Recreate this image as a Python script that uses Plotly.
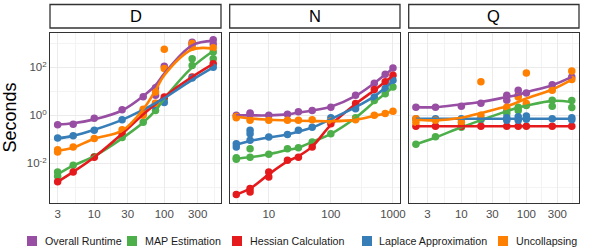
import plotly.graph_objects as go

# ---------------- data ----------------
SERIES = ["Overall Runtime", "MAP Estimation", "Hessian Calculation",
          "Laplace Approximation", "Uncollapsing"]
COLORS = ["#984EA3", "#4DAF4A", "#E41A1C", "#377EB8", "#FF7F00"]
PANELS = ["D", "N", "Q"]

# Panel D
D_X = [3, 5, 10, 25, 50, 75, 100, 250, 500]
D_OVERALL_PTS = [[0.41], [0.43], [0.76], [1.7], [6.0], [14, 6.8], [110], [1100, 890], [1400, 930]]
D_OVERALL_FIT = [0.42, 0.47, 0.68, 1.6, 6.3, 18, 55, 830, 1260]
D_MAP_PTS = [[0.0044, 0.0029], [0.0083], [0.019], [0.12], [0.52], [1.6], [4.9], [230, 120], [440, 230]]
D_MAP_FIT = [0.0035, 0.008, 0.02, 0.11, 0.5, 1.6, 5, 100, 480]
D_HESS_PTS = [[0.0017], [0.0044], [0.018], [0.17], [1.2], [3.1], [5.8], [40], [140]]
D_HESS_FIT = [0.0017, 0.0044, 0.018, 0.17, 1.1, 3, 6, 40, 140]
D_LAP_PTS = [[0.115], [0.14], [0.24], [0.66], [1.6], [2.4], [3.4], [36], [100]]
D_LAP_FIT = [0.11, 0.14, 0.25, 0.65, 1.7, 3.2, 5.2, 30, 100]
D_UNC_PTS = [[0.037, 0.03], [0.048], [0.11], [0.25], [1.8, 1.0], [9.3, 3.2], [560, 90], [980, 700], [660]]
D_UNC_FIT = [0.034, 0.045, 0.107, 0.23, 1.8, 11, 47, 550, 600]

# Panel N
N_X = [3, 5, 10, 20, 30, 50, 100, 250, 500, 750, 1000]
N_OVERALL_PTS = [[1.0], [1.1, 1.25], [1.0], [1.1], [1.4], [1.6], [2.2], [6.8], [22], [51], [93]]
N_OVERALL_FIT = [1.0, 1.0, 1.0, 1.1, 1.3, 1.6, 2.3, 6.5, 22, 50, 90]
N_MAP_PTS = [[0.015, 0.017], [0.041, 0.018], [0.024], [0.041], [0.045], [0.078], [0.17], [0.79], [4.2], [7.9], [15]]
N_MAP_FIT = [0.016, 0.018, 0.024, 0.036, 0.045, 0.078, 0.17, 0.8, 3.6, 8, 15]
N_HESS_PTS = [[0.0005], [0.00089, 0.00065], [0.0044, 0.0027], [0.0135], [0.018], [0.048], [0.45], [3.1], [12], [25], [47]]
N_HESS_FIT = [0.0005, 0.0009, 0.0035, 0.012, 0.02, 0.05, 0.4, 3, 11, 25, 45]
N_LAP_PTS = [[0.066, 0.048], [0.24, 0.17, 0.091], [0.126], [0.16], [0.24], [0.32], [0.79], [1.9], [5.8], [13], [29]]
N_LAP_FIT = [0.06, 0.085, 0.12, 0.16, 0.21, 0.31, 0.7, 2.2, 6.2, 14, 28]
N_UNC_PTS = [[0.9, 0.8], [0.62], [0.62], [0.62], [0.62], [0.66], [0.58], [0.66], [1.0], [1.2], [1.5]]
N_UNC_FIT = [0.88, 0.75, 0.66, 0.62, 0.6, 0.58, 0.57, 0.65, 0.95, 1.2, 1.5]

# Panel Q
Q_X = [2, 4, 10, 20, 50, 75, 100, 250, 500]
Q_OVERALL_PTS = [[2.2], [2.2], [2.4], [3.2], [6.8, 4.3], [11, 6.8], [8.5], [19], [40]]
Q_OVERALL_FIT = [2.2, 2.2, 2.9, 3.6, 5.8, 7.2, 9.3, 18, 40]
Q_MAP_PTS = [[0.062], [0.13], [0.32], [0.66], [1.6, 1.2], [2.2, 1.6], [2.6], [4.3, 2.4], [4.2, 2.1]]
Q_MAP_FIT = [0.062, 0.12, 0.32, 0.63, 1.5, 2.1, 2.5, 4.0, 3.6]
Q_HESS_PTS = [[0.35], [0.35], [0.35], [0.35], [0.35], [0.35], [0.35], [0.35], [0.35]]
Q_HESS_FIT = [0.35, 0.35, 0.35, 0.35, 0.35, 0.35, 0.35, 0.35, 0.35]
Q_LAP_PTS = [[0.72], [0.72], [0.72], [0.72], [0.79, 0.63], [0.87, 0.63], [0.95, 0.69], [0.72], [0.79, 0.66]]
Q_LAP_FIT = [0.72, 0.72, 0.72, 0.72, 0.72, 0.72, 0.72, 0.72, 0.72]
Q_UNC_PTS = [[0.72, 0.52], [0.62], [0.52], [25, 1.0], [2.2], [5.8], [58, 3.1], [11], [71, 31]]
Q_UNC_FIT = [0.66, 0.62, 0.8, 1.26, 2.4, 3.6, 5, 12, 31]

# axis ticks
D_TICKS = [3, 10, 30, 100, 300]
N_TICKS = [10, 100, 1000]
Q_TICKS = [3, 10, 30, 100, 300]
Y_TICKS = [0.01, 1, 100]
Y_TICKTEXT = ["10<sup>-2</sup>", "10<sup>0</sup>", "10<sup>2</sup>"]

# ---------------- figure ----------------
panel_data = {
    "D": (D_X, [D_OVERALL_PTS, D_MAP_PTS, D_HESS_PTS, D_LAP_PTS, D_UNC_PTS],
          [D_OVERALL_FIT, D_MAP_FIT, D_HESS_FIT, D_LAP_FIT, D_UNC_FIT]),
    "N": (N_X, [N_OVERALL_PTS, N_MAP_PTS, N_HESS_PTS, N_LAP_PTS, N_UNC_PTS],
          [N_OVERALL_FIT, N_MAP_FIT, N_HESS_FIT, N_LAP_FIT, N_UNC_FIT]),
    "Q": (Q_X, [Q_OVERALL_PTS, Q_MAP_PTS, Q_HESS_PTS, Q_LAP_PTS, Q_UNC_PTS],
          [Q_OVERALL_FIT, Q_MAP_FIT, Q_HESS_FIT, Q_LAP_FIT, Q_UNC_FIT]),
}

fig = go.Figure()
for i, p in enumerate(PANELS):
    xs, pts, fits = panel_data[p]
    xa = "x" if i == 0 else f"x{i+1}"
    ya = "y" if i == 0 else f"y{i+1}"
    for s, reps in enumerate(pts):
        px = [x for x, r in zip(xs, reps) for _ in r]
        py = [v for r in reps for v in r]
        fig.add_trace(go.Scatter(x=px, y=py, mode="markers", xaxis=xa, yaxis=ya,
                                 marker=dict(color=COLORS[s], size=7.5, line=dict(width=0)),
                                 showlegend=False, hoverinfo="skip"))
    for s, fit in enumerate(fits):
        fig.add_trace(go.Scatter(x=xs, y=fit, mode="lines", xaxis=xa, yaxis=ya,
                                 line=dict(color=COLORS[s], width=2.6, shape="spline", smoothing=1.0),
                                 showlegend=False, hoverinfo="skip"))

FONT = "Liberation Sans, Arial, Helvetica, sans-serif"
L, R, T, B = 50, 21, 33, 47
W, H = 600, 250
PW, PH = W - L - R, H - T - B

def px2x(px):
    return (px - L) / PW

def py2y(py):
    return (H - B - py) / PH

domains = [[px2x(50), px2x(221)], [px2x(229.7), px2x(400)], [px2x(408.7), 1.0]]
xranges = [[0.368, 2.81], [0.371, 3.113], [0.19, 2.81]]
xticks = [D_TICKS, N_TICKS, Q_TICKS]
xminor = [[5.48, 17.3, 54.8, 173, 520], [3.16, 31.6, 316], [1.64, 5.48, 17.3, 54.8, 173, 520]]

common_axis = dict(showline=True, mirror=True, linecolor="#333333", linewidth=1,
                   gridcolor="#EBEBEB", gridwidth=1.1, ticks="", zeroline=False,
                   tickfont=dict(family=FONT, size=11.5, color="#4D4D4D"))

layout = dict(width=W, height=H, margin=dict(l=L, r=R, t=T, b=B),
              plot_bgcolor="white", paper_bgcolor="white", showlegend=False,
              font=dict(family=FONT))
for i in range(3):
    key = "xaxis" if i == 0 else f"xaxis{i+1}"
    layout[key] = dict(common_axis, type="log", domain=domains[i], range=xranges[i],
                       tickmode="array", tickvals=xticks[i], ticktext=[str(t) for t in xticks[i]],
                       anchor="y" if i == 0 else f"y{i+1}",
                       minor=dict(tickmode="array", tickvals=xminor[i], showgrid=True,
                                  gridcolor="#F3F3F3", gridwidth=0.6, ticks=""))
    ykey = "yaxis" if i == 0 else f"yaxis{i+1}"
    ydict = dict(common_axis, type="log", range=[-3.65, 3.43], domain=[0, 1],
                 tickmode="array", tickvals=Y_TICKS, ticktext=Y_TICKTEXT,
                 anchor="x" if i == 0 else f"x{i+1}",
                 minor=dict(tickmode="array", tickvals=[0.001, 0.1, 10, 1000], showgrid=True,
                            gridcolor="#F3F3F3", gridwidth=0.6, ticks=""))
    if i > 0:
        ydict["showticklabels"] = False
        ydict["matches"] = "y"
    layout[ykey] = ydict

fig.update_layout(**layout)

# strips
for i, p in enumerate(PANELS):
    fig.add_shape(type="rect", xref="paper", yref="paper",
                  x0=domains[i][0], x1=domains[i][1], y0=py2y(28), y1=py2y(4.5),
                  line=dict(color="#333333", width=1.3), fillcolor="white", layer="above")
    fig.add_annotation(text=p, xref="paper", yref="paper",
                       x=(domains[i][0] + domains[i][1]) / 2, y=py2y(16.3),
                       showarrow=False, xanchor="center", yanchor="middle",
                       font=dict(family=FONT, size=16.5, color="black"))

# y title
fig.add_annotation(text="Seconds", xref="paper", yref="paper", x=px2x(9.5), y=0.5,
                   textangle=-90, showarrow=False, xanchor="center", yanchor="middle",
                   font=dict(family=FONT, size=18, color="black"))

# legend (manual, bottom)
sq_left = [27, 127, 232, 362, 498]
txt_left = [43, 143, 248, 377, 514]
for s, name in enumerate(SERIES):
    fig.add_shape(type="rect", xref="paper", yref="paper",
                  x0=px2x(sq_left[s]), x1=px2x(sq_left[s] + 10),
                  y0=py2y(246), y1=py2y(236),
                  line=dict(width=0), fillcolor=COLORS[s])
    fig.add_annotation(text=name, xref="paper", yref="paper", x=px2x(txt_left[s]), y=py2y(241),
                       showarrow=False, xanchor="left", yanchor="middle",
                       font=dict(family=FONT, size=10.7, color="#1A1A1A"))

fig.write_html("out.html", config={"displayModeBar": False},
               post_script="document.body.style.margin='0';document.body.style.overflow='hidden';")
